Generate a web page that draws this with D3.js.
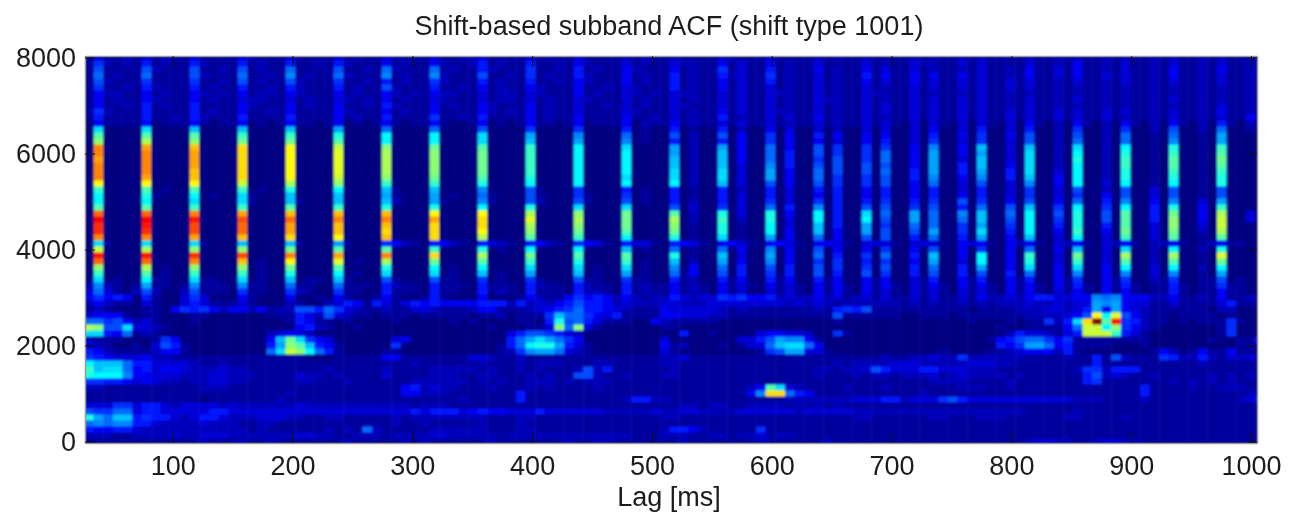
<!DOCTYPE html>
<html>
<head>
<meta charset="utf-8">
<script src="https://cdn.jsdelivr.net/npm/d3@7"></script>
<style>
  html, body { margin: 0; padding: 0; background: #fff; }
  svg { display: block; }
  text { font-family: "Liberation Sans", Arial, sans-serif; fill: #1c1c1c; }
</style>
</head>
<body>
<svg width="1301" height="516"></svg>
<script>
const chartTitle = "Shift-based subband ACF (shift type 1001)";
const xTitle = "Lag [ms]";
const xTicks = [100, 200, 300, 400, 500, 600, 700, 800, 900, 1000];
const yTicks = [0, 2000, 4000, 6000, 8000];

// one string per frequency row, 8000 Hz first, 125 Hz apart. each char is a
// base 36 level (0 = navy, z = dark red), grouped in fives to keep columns lined up
const acfRows = [
  "13112 13121 13111 13211 13111 13121 13211 13112 23111 13121 13111 12121 12111 12211 13111 12121 12111 12121 12121 12121 12121 12121 12121 12121 121",
  "16212 15121 15211 15121 15112 15211 14121 14211 25121 15112 14211 13121 13221 14131 14121 13111 13121 13221 13131 12131 12141 12131 12131 12131 121",
  "17111 17211 17112 17121 18111 17112 18211 18121 15211 16112 15121 14211 14121 16131 15121 14121 14131 13121 12131 12141 13141 12131 12141 12141 121",
  "18121 18111 17211 18112 19121 18211 19121 19211 17112 16121 15211 14121 15121 15231 16121 13121 15141 14141 14131 12141 13141 13131 12141 12131 122",
  "17211 16111 16112 17121 17211 16112 15121 16211 15121 15112 14211 14121 15121 14131 15121 13121 14131 14131 13131 13131 12131 12131 12131 12131 121",
  "16112 15211 15121 15112 15211 15121 17211 15112 14121 14211 14112 13211 15121 14131 13121 13121 13121 13131 13131 13131 12121 12121 12121 12121 121",
  "14221 14121 14212 14122 14211 14121 14212 14221 13122 13211 14121 13212 13221 13131 13221 13121 13221 13121 12131 12121 12121 12121 12121 12121 121",
  "14121 14211 14121 13221 13121 13212 14121 13211 13122 13121 13211 13121 13121 13131 13121 13221 13121 13131 13131 12131 12131 12121 12131 12121 121",
  "14112 15121 15111 14211 14121 14112 15211 14121 14211 14121 13112 13121 13211 13131 13121 13121 13131 13131 13131 12131 12121 12121 12121 12131 121",
  "16211 15111 15121 14112 14111 14211 14121 14111 14212 14121 13111 13211 13121 14131 13221 13121 13131 13131 13131 13131 13131 13131 12131 12141 121",
  "15111 15112 15211 15111 15111 14121 15111 16112 15111 14121 14111 14112 13121 15121 13131 14121 13121 13131 13131 13131 13131 13121 12131 12131 141",
  "04111 14011 14101 14010 14110 14010 14101 14100 14010 14110 14011 14021 14121 13131 13121 13121 13131 03031 03031 03041 02041 02041 02041 02051 021",
  "0c000 0c000 0b000 0b000 0b000 0a000 08000 08000 07000 06000 06000 05010 05010 05020 04030 03020 03030 03040 03050 03050 02060 02060 02070 02080 010",
  "0g000 0g000 0g000 0f000 0f000 0e000 0d000 0d000 0c000 0a000 09000 08010 07020 07040 06040 05040 04040 03050 04060 04070 02070 02080 01080 010a0 000",
  "0i000 0j000 0i000 0h000 0h000 0g000 0d000 0d000 0c000 0b000 0a000 09010 05020 05040 06040 04030 04050 03060 03060 03070 02080 02080 01090 010a0 000",
  "0q000 0p000 0o000 0n000 0m000 0k000 0i000 0h000 0g000 0f000 0d000 0c000 0a020 0a040 08040 07060 06060 04090 040b0 030b0 020c0 020d0 010e0 010f0 000",
  "0q000 0q000 0p000 0n000 0m000 0l000 0j000 0i000 0h000 0f000 0d000 0d000 0a020 0b040 08050 07060 06080 040a0 040a0 030c0 020d0 020e0 010f0 010g0 000",
  "0p000 0q000 0p000 0n000 0m000 0l000 0j000 0i000 0h000 0f000 0d000 0d000 0b020 0b040 08050 06070 06080 040a0 030b0 030c0 020e0 020f0 010g0 010h0 000",
  "0q000 0q000 0p000 0n000 0m000 0l000 0j000 0i000 0h000 0f000 0d000 0d000 0b020 0b030 09050 07070 07070 040a0 050b0 040c0 020d0 020f0 010g0 010g0 000",
  "0q000 0q000 0o000 0n000 0m000 0l000 0j000 0i000 0h000 0f000 0d000 0d000 0c020 0c030 0a040 08070 07080 050a0 050a0 050c0 030d0 020e0 010f0 010f0 000",
  "0q000 0p000 0o000 0n000 0m000 0k000 0i000 0h000 0g000 0e000 0d000 0c000 0c020 0c030 0a040 08060 06070 05090 04090 050b0 040d0 020e0 010e0 010e0 000",
  "0m000 0m000 0m000 0k000 0j000 0i000 0f000 0f000 0e000 0d000 0d000 0d000 0d020 0b030 07040 07060 06070 04080 03070 03090 040d0 030d0 010d0 010e0 000",
  "0f000 0g010 0g000 0f010 0e000 0d000 0b100 0b000 09000 07100 06000 05010 05010 05020 05030 05050 04050 04050 03050 03060 03070 02070 03070 01070 000",
  "0d000 0e100 0d010 0c100 0b000 0b000 0a100 0a010 08100 07100 06100 06010 05010 05030 05030 04050 04050 04050 04050 03060 03060 04070 03070 01070 000",
  "0d000 0d000 0c000 0c100 0b100 0b000 0b200 0a100 09100 07200 07100 07010 05020 05030 06030 06050 05060 05060 07060 04070 04080 05090 04090 030a0 000",
  "0g000 0g000 0f000 0f000 0g000 0f000 0e000 0e000 0d000 0e000 0c000 0c000 07030 06030 08050 09050 07070 06070 05080 070b0 060d0 060d0 050e0 040f0 000",
  "0r000 0r000 0q000 0p000 0o000 0o000 0o000 0m000 0m000 0j000 0i000 0h000 0g020 0e030 0e040 0d050 0c080 0a080 090b0 080d0 070e0 070g0 050h0 040j0 030",
  "0v000 0v000 0u000 0s000 0r000 0q000 0q000 0p000 0n000 0l000 0j000 0h000 0j020 0f020 0e030 0d050 0d070 0a080 080b0 070d0 060e0 070g0 050i0 040k0 030",
  "0t000 0u000 0s000 0r000 0p000 0o000 0o000 0n000 0n000 0j000 0i000 0h000 0i010 0e010 0d030 0b050 0a060 08080 060a0 060d0 050e0 050g0 030i0 030k0 000",
  "0t000 0t000 0s000 0r000 0p000 0o000 0n000 0n000 0m000 0i000 0h000 0g000 0h010 0e010 0d040 0b040 0a070 070a0 060c0 050d0 040f0 040h0 030h0 020j0 000",
  "0q000 0q000 0p000 0o000 0n000 0m000 0o000 0n000 0j000 0g000 0f000 0d000 0e010 0c010 0a040 08040 07070 05080 050a0 040b0 030d0 030f0 030g0 010g0 000",
  "0c100 0c000 0c100 0b000 0b100 0a100 06421 05421 05321 05421 06431 05331 05431 04431 04431 04431 03331 03331 04341 04241 03241 03241 02241 01241 100",
  "0k000 0j000 0i000 0i000 0h000 0g000 0g000 0f000 0e010 0d000 0d000 0b010 08010 08040 09040 07040 04060 04070 04060 04080 040b0 030c0 020d0 020e0 000",
  "0u000 0u000 0t000 0s000 0q000 0p000 0q000 0n000 0j000 0h000 0g000 0g000 0e010 0b030 0a040 08050 06080 050b0 040d0 040f0 030h0 030j0 020j0 010l0 000",
  "0r000 0r000 0q000 0o010 0m000 0l010 0j000 0h000 0g000 0f000 0e000 0f010 0b020 0a040 09040 06060 05060 040a0 030d0 040e0 030f0 030g0 020g0 010h0 000",
  "0i000 0j010 0i000 0i010 0h000 0g000 0e000 0d010 0d000 0c000 0c010 0c010 09040 08050 07050 07060 06070 05080 050a0 040c0 040c0 040d0 030d0 020d0 000",
  "0f000 0g010 0f000 0f010 0e000 0d010 0c000 0c010 0b010 0a000 0b010 0a010 08140 07050 06050 07050 07060 05070 05070 05080 04090 04090 03090 010a0 000",
  "0c010 0d110 0c110 0c010 0b011 0b100 07100 07110 06010 06100 07110 06110 05120 05140 05140 05140 04140 03150 04150 04150 04160 04160 02160 01170 100",
  "29210 1a110 19111 09110 08110 08111 05211 05111 05111 05211 05211 05121 14121 04131 04131 04141 04141 03141 04141 04141 04151 04151 01151 01161 100",
  "38310 27200 27111 06110 06210 06110 05111 05110 05121 05111 05221 05121 14121 04130 03131 04141 04131 03131 03131 04141 03141 04141 01151 01141 100",
  "46454 05100 36300 04100 04001 04100 14100 15100 04000 14211 46454 24212 25323 36564 45232 24231 23131 13131 13142 23245 53344 98944 42241 12141 121",
  "24211 03100 35311 13100 02100 23541 53135 45444 45552 52324 57554 23222 33222 33333 33323 23212 22222 12121 12121 22232 23233 a9a43 31131 11135 111",
  "12100 01104 65642 44241 22775 86321 12113 32111 24411 12345 68554 32111 43333 32121 11111 12156 57111 11111 11011 11222 33235 a4a43 21111 11022 000",
  "34441 01100 01100 00001 11532 73211 01110 11111 01120 1116b 88643 51111 44333 22111 11111 11171 11111 00111 01111 11122 22347 mdl74 21101 11101 000",
  "88674 23100 01000 00000 01541 10100 00100 00010 10000 1105e 78531 11004 21111 10000 00000 00010 00000 00000 00100 01011 625cn zgu65 21101 01116 100",
  "ji77c 33210 00000 00000 00452 10010 00000 00000 00100 0113i 8i310 00000 11000 00000 00000 00000 00000 00000 00000 10011 1148k kdi64 21000 00016 000",
  "cc548 12100 00000 00002 34320 00000 00000 00000 00003 57765 32000 00000 00500 10000 34433 20061 00000 00000 00000 02533 2135k kkf53 10000 00016 000",
  "21110 00164 00000 00004 bhc64 30000 00340 00000 00005 8aca8 64000 00000 30000 00033 57a99 41000 00000 00000 00001 45788 64611 11111 10000 00100 115",
  "32100 10375 10000 00005 aigb5 41000 00600 00000 00015 8deea 53100 00000 41200 01013 38bcc 84000 00000 00000 00000 546aa 84511 11000 10000 00000 114",
  "54211 11244 10000 00008 ckid8 51000 01100 00000 00012 69aa8 32100 00000 31000 00000 167aa 33100 00000 00001 00001 12344 42510 00000 01420 14114 110",
  "65433 34221 11111 11111 11100 01111 14411 11111 33211 21111 11111 11111 22311 11111 11111 11111 11121 12232 26222 22211 11211 51721 11652 25213 232",
  "dbbb8 55333 32112 11111 11111 11111 11112 11111 12111 21222 11122 11111 22111 11111 11111 11121 22223 33222 22333 22111 11111 51111 11111 12111 111",
  "fbcc8 45344 32223 22111 11111 21111 12111 12222 21211 21211 12725 11111 12111 11111 11111 12212 23753 33553 33222 11111 11126 62555 11111 11111 111",
  "eddd9 44333 22233 22211 11322 12111 13111 12221 12211 12121 17721 12111 22111 11111 11111 12111 21221 22231 23222 21211 11115 72321 12111 11212 121",
  "66554 34322 12233 22111 11221 11211 11112 22222 12121 12221 21222 11111 11111 11111 11111 11111 11111 11122 22111 12111 11115 61111 11121 21212 111",
  "22111 11111 11222 11111 11111 11111 11145 23221 11211 12121 11121 11111 11111 11112 4gc32 11112 11121 11111 12221 12111 11111 11111 51111 21122 211",
  "11111 11111 11111 11111 12111 11111 11144 22211 11111 51111 11111 11111 11111 11114 9nn85 41111 11111 11211 11111 11111 11111 11111 51111 11111 122",
  "11111 11111 11011 11111 21111 11111 11111 11112 11111 51111 11111 12552 21111 11111 11122 22222 33355 23336 75333 33333 33322 21111 21111 11111 235",
  "33366 35532 33332 32222 22322 22222 22221 22211 11111 11111 11111 11111 11221 22112 22212 12121 11111 11111 11111 11111 11111 11111 11111 11111 111",
  "76688 35533 33355 33333 33333 33333 33335 35553 45443 33533 33332 22223 22332 22233 33332 33333 22222 22222 22222 22211 11121 11111 11111 11111 111",
  "ea8bb 56553 23553 22233 32211 22111 11212 22222 22111 22111 11111 11111 22111 11111 11111 11111 22111 11122 11122 21111 11221 11121 11111 11111 111",
  "89899 55322 22322 21122 11111 11111 11211 21111 12111 21111 11111 11111 11111 11111 11111 11111 11111 11111 11111 11111 11111 11111 11111 11111 111",
  "54455 32222 22222 22121 11111 21218 21111 12222 22111 22111 11111 11111 25542 11111 61111 11111 11111 11111 11111 11111 11111 11111 11111 11111 111",
  "22211 22223 22333 22222 22332 21122 21222 23322 22212 22222 22222 22111 22211 22122 32221 11111 11111 11111 11111 11111 11111 11111 11111 11111 111",
  "11111 11111 11211 12112 11111 11211 11121 21111 11211 11111 21122 11111 11211 11111 22111 11211 11111 11111 11111 11123 32211 23322 11111 11111 112"
];

const svg = d3.select("svg");
const plotLeft = 85, plotRight = 1257, plotTop = 56, plotBottom = 443;

const x = d3.scaleLinear().domain([26.8, 1005]).range([plotLeft, plotRight]);
const y = d3.scaleLinear().domain([-31, 8031]).range([plotBottom, plotTop]);

// matlab jet
const jet = d3
  .scaleLinear()
  .domain([0, 0.125, 0.375, 0.625, 0.875, 1])
  .range(["#000080", "#0000ff", "#00ffff", "#ffff00", "#ff0000", "#800000"]);

const lagStep = 8.013;
const cells = [];
acfRows.forEach(function (row, r) {
  row.replace(/ /g, "").split("").forEach(function (c, i) {
    cells.push({ lag: 30 + i * lagStep, freq: 8000 - r * 125, value: parseInt(c, 36) / 35 });
  });
});

const cellW = x(lagStep) - x(0);
const cellH = y(0) - y(125);

const defs = svg.append("defs");
defs
  .append("clipPath")
  .attr("id", "plotClip")
  .append("rect")
  .attr("x", plotLeft)
  .attr("y", plotTop)
  .attr("width", plotRight - plotLeft)
  .attr("height", plotBottom - plotTop);
// the original is a soft upscaled bitmap
function addBlur(id, amount) {
  defs
    .append("filter")
    .attr("id", id)
    .attr("x", "-5%")
    .attr("y", "-5%")
    .attr("width", "110%")
    .attr("height", "110%")
    .append("feGaussianBlur")
    .attr("stdDeviation", amount);
}
addBlur("soft", 0.8);
addBlur("softText", 0.45);

svg
  .append("g")
  .attr("clip-path", "url(#plotClip)")
  .append("g")
  .attr("filter", "url(#soft)")
  .selectAll("rect")
  .data(cells)
  .enter()
  .append("rect")
  .attr("x", function (d) {
    return x(d.lag) - cellW / 2;
  })
  .attr("y", function (d) {
    return y(d.freq) - cellH / 2;
  })
  .attr("width", cellW + 0.5)
  .attr("height", cellH + 0.5)
  .attr("fill", function (d) {
    return jet(d.value);
  });

function styleAxis(g) {
  g.selectAll(".domain").attr("stroke", "#9a9a9a").attr("stroke-width", 1.6);
  g.selectAll(".tick line").attr("stroke", "#111").attr("stroke-width", 1);
  g.selectAll("text").attr("font-size", 27).attr("fill", "#1c1c1c").attr("filter", "url(#softText)");
}

// inward ticks on all four sides, labels only on left and bottom
svg
  .append("g")
  .attr("transform", "translate(0," + plotBottom + ")")
  .call(d3.axisBottom(x).tickValues(xTicks).tickSizeInner(-11).tickSizeOuter(0).tickPadding(13).tickFormat(d3.format("d")))
  .call(styleAxis);
svg
  .append("g")
  .attr("transform", "translate(0," + plotTop + ")")
  .call(d3.axisTop(x).tickValues(xTicks).tickSizeInner(-11).tickSizeOuter(0).tickFormat(""))
  .call(styleAxis);
svg
  .append("g")
  .attr("transform", "translate(" + plotLeft + ",0)")
  .call(d3.axisLeft(y).tickValues(yTicks).tickSizeInner(-10).tickSizeOuter(0).tickPadding(9).tickFormat(d3.format("d")))
  .call(styleAxis);
svg
  .append("g")
  .attr("transform", "translate(" + plotRight + ",0)")
  .call(d3.axisRight(y).tickValues(yTicks).tickSizeInner(-10).tickSizeOuter(0).tickFormat(""))
  .call(styleAxis);

svg
  .append("text")
  .attr("x", 669)
  .attr("y", 35)
  .attr("text-anchor", "middle")
  .attr("font-size", 27)
  .attr("filter", "url(#softText)")
  .text(chartTitle);

svg
  .append("text")
  .attr("x", 669)
  .attr("y", 506)
  .attr("text-anchor", "middle")
  .attr("font-size", 27)
  .attr("filter", "url(#softText)")
  .text(xTitle);
</script>
</body>
</html>
